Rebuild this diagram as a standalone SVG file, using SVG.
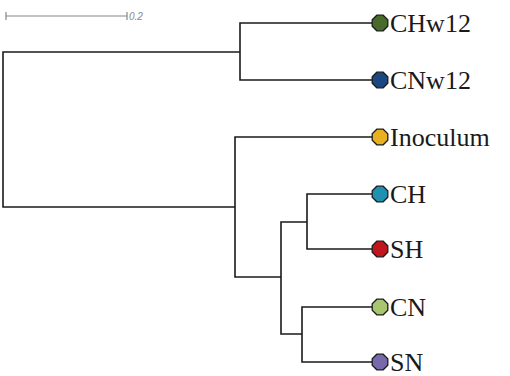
<svg xmlns="http://www.w3.org/2000/svg" width="510" height="376" viewBox="0 0 510 376">
<style>
.br{fill:none;stroke:#1a1a1a;stroke-width:1.6;stroke-linejoin:miter}
.lab{font-family:"Liberation Serif","Times New Roman",serif;font-size:26px;fill:#1a1a1a}
.tip{stroke:#1a1a1a;stroke-width:1.3}
</style>
<defs>
<polygon id="oct" points="3.2,-7.8 7.8,-3.2 7.8,3.2 3.2,7.8 -3.2,7.8 -7.8,3.2 -7.8,-3.2 -3.2,-7.8"/>
</defs>
<rect width="510" height="376" fill="#ffffff"/>
<g id="scale">
<path d="M6,16 H127 M6,12 V20 M127,12 V20" stroke="#888" stroke-width="1.2" fill="none"/>
<text x="129" y="20" font-family="'Liberation Sans',Arial,sans-serif" font-size="10" font-style="italic" fill="#888">0.2</text>
</g>
<g id="connectors" class="br">
<path d="M240,52 H3 V207 H235"/>
<path d="M372,23 H240 V80 H372"/>
<path d="M372,137 H235 V277 H281"/>
<path d="M307,222 H281 V334 H302"/>
<path d="M372,194 H307 V249 H372"/>
<path d="M372,307 H302 V362 H372"/>
</g>
<g id="CHw12"><use href="#oct" x="380" y="23" fill="#4a6a2c" class="tip"/><text class="lab" x="390" y="31.5">CHw12</text></g>
<g id="CNw12"><use href="#oct" x="380" y="80" fill="#1b4880" class="tip"/><text class="lab" x="390" y="88.5">CNw12</text></g>
<g id="Inoculum"><use href="#oct" x="380" y="137" fill="#e9b021" class="tip"/><text class="lab" x="390" y="145.5">Inoculum</text></g>
<g id="CH"><use href="#oct" x="380" y="194" fill="#2090b0" class="tip"/><text class="lab" x="390" y="202.5">CH</text></g>
<g id="SH"><use href="#oct" x="380" y="249" fill="#c0151c" class="tip"/><text class="lab" x="390" y="257.5">SH</text></g>
<g id="CN"><use href="#oct" x="380" y="307" fill="#a9c56f" class="tip"/><text class="lab" x="390" y="315.5">CN</text></g>
<g id="SN"><use href="#oct" x="380" y="362" fill="#7868ac" class="tip"/><text class="lab" x="390" y="370.5">SN</text></g>
</svg>
